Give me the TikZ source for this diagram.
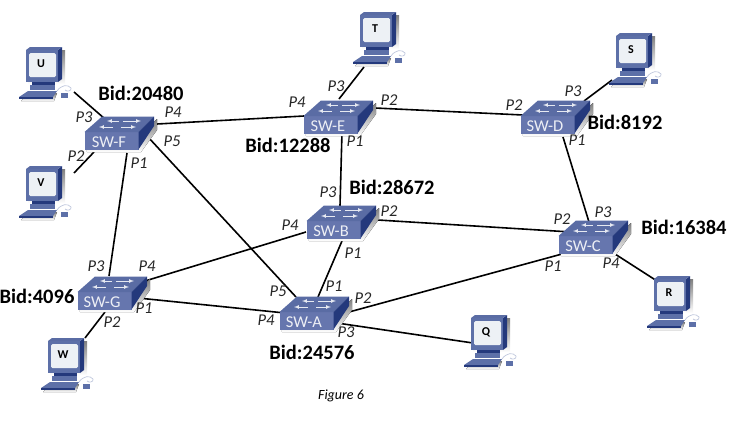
\documentclass[tikz,border=0pt]{standalone}
\usepackage{fontspec}
\setmainfont{Carlito}
\usetikzlibrary{backgrounds}
\definecolor{swfront}{HTML}{6676AE}
\definecolor{swtop}{HTML}{5A6CA4}
\definecolor{swside}{HTML}{24397C}
\definecolor{pcbody}{HTML}{5D70A8}
\definecolor{pcscreen}{HTML}{EDF1F5}
\definecolor{shade}{HTML}{D8D0BC}
\tikzset{
  link/.style={black,line width=1.6pt},
  swname/.style={text=white!88!swfront,font=\fontsize{16.5}{16}\selectfont,inner sep=0pt,yshift=1pt},
  pcname/.style={font=\bfseries\fontsize{12}{12}\selectfont,inner sep=0pt},
  bid/.style={font=\bfseries\fontsize{20.5}{20}\selectfont,inner sep=0pt},
  port/.style={font=\itshape\fontsize{16.5}{16}\selectfont,text=black!85,inner sep=0pt},
  swicon/.pic={
    \fill[shade] (-24,-9) -- (32,-9) -- (48,-24) -- (48,-13) -- (32,9) -- (-22,9) -- cycle;
    \fill[swfront] (-24.5,-11) rectangle (29.5,6.5);
    \fill[swtop] (-24.5,-11) -- (-7,-26.5) -- (45,-26.5) -- (29.5,-11) -- cycle;
    \fill[swside] (29.5,-11) -- (45,-26.5) -- (45,-17) -- (29.5,6.5) -- cycle;
    \draw[white!85!swtop,line width=.7pt,-latex] (10,-22) -- (-2,-22);
    \draw[white!85!swtop,line width=.7pt,-latex] (14,-22) -- (32,-22);
    \draw[white!85!swtop,line width=.7pt,-latex] (4,-16) -- (-10,-16);
    \draw[white!85!swtop,line width=.7pt,-latex] (12,-16) -- (27,-16);
  },
  pcicon/.pic={
    \fill[shade] (-13,-14) rectangle (24,20);
    \fill[shade] (-20,37) -- (-12,29) -- (16,29) -- (13,37) -- cycle;
    \fill[swside] (17,-14) -- (21,-17) -- (21,15) -- (17,18) -- cycle;
    \fill[swtop] (-15,-14) -- (-11,-17) -- (21,-17) -- (17,-14) -- cycle;
    \fill[pcbody] (-15,-14) rectangle (17,18);
    \fill[pcscreen,rounded corners=1.5pt] (-12,-11) rectangle (15,13);
    \fill[swside] (-9,18) rectangle (14,21);
    \fill[pcbody] (-11,21) rectangle (14,26);
    \fill[pcbody] (-22,33) -- (-13,27) -- (16,27) -- (12,33) -- cycle;
    \fill[swside] (-22,33) rectangle (12,34.5);
    \draw[white!60!pcbody,line width=.7pt] (16,27) .. controls (20,21) and (27,20) .. (30,24) .. controls (31,27) and (26,28) .. (24,26);
    \fill[pcbody] (20,29) rectangle (27,34);
  }
}
\begin{document}
\begin{tikzpicture}[x=1pt,y=-1pt]
  \useasboundingbox (0,0) rectangle (737,426);

  % switches
  \foreach \s/\x/\y in {F/109/143,E/328/127,B/331/232,D/545/127,C/583/247,A/304/323,G/102/303} {
    \pic at (\x,\y) {swicon};
    \node[swname] (sw\s) at (\x,\y) {SW-\s};
  }

  % hosts
  \foreach \s/\x/\y in {U/41/64,V/41/183,W/63/355,T/375/29,S/631/50,R/669/293,Q/486/332} {
    \pic at (\x,\y) {pcicon};
    \node[pcname] (pc\s) at (\x,\y) {\s};
  }

  \begin{scope}[on background layer]
    \draw[link] ([shift={(33,28)}]pcU.center) -- ([shift={(-4,-23)}]swF.center);
    \draw[link] ([shift={(33,-10)}]pcV.center) -- ([shift={(-15,10)}]swF.center);
    \draw[link] ([shift={(18,11)}]swF.center) -- ([shift={(7,-26)}]swG.center);
    \draw[link] ([shift={(39,-5)}]swF.center) -- ([shift={(-8,-25)}]swA.center);
    \draw[link] ([shift={(48,-18)}]swF.center) -- ([shift={(-24,-10)}]swE.center);
    \draw[link] ([shift={(-11,38)}]pcT.center) -- ([shift={(11,-27)}]swE.center);
    \draw[link] ([shift={(47,-18)}]swE.center) -- ([shift={(-22,-11)}]swD.center);
    \draw[link] ([shift={(14,6)}]swE.center) -- ([shift={(9,-25)}]swB.center);
    \draw[link] ([shift={(-19,30)}]pcS.center) -- ([shift={(39,-25)}]swD.center);
    \draw[link] ([shift={(18,11)}]swD.center) -- ([shift={(6,-24)}]swC.center);
    \draw[link] ([shift={(47,-11)}]swB.center) -- ([shift={(-12,-14)}]swC.center);
    \draw[link] ([shift={(-25,1)}]swB.center) -- ([shift={(43,-21)}]swG.center);
    \draw[link] ([shift={(11,10)}]swB.center) -- ([shift={(14,-25)}]swA.center);
    \draw[link] ([shift={(36,-4)}]swG.center) -- ([shift={(-19,-9)}]swA.center);
    \draw[link] ([shift={(34,-7)}]swA.center) -- ([shift={(-21,8)}]swC.center);
    \draw[link] ([shift={(33,1)}]swA.center) -- ([shift={(-13,11)}]pcQ.center);
    \draw[link] ([shift={(32,8)}]swC.center) -- ([shift={(-12,-12)}]pcR.center);
    \draw[link] ([shift={(3,10)}]swG.center) -- ([shift={(22,-17)}]pcW.center);
  \end{scope}

  % bridge ids
  \foreach \s/\x/\y/\b in {F/141/93/20480,E/288/145/12288,B/392/187/28672,D/625/122/8192,
    C/684/227/16384,G/37/296/4096,A/312/352/24576}
    \node[bid] (bid\s) at (\x,\y) {Bid:\b};

  % ports
  \foreach \s/\x/\y/\p in {F/84/117/P3,F/173/112/P4,F/76/156/P2,F/172/141/P5,F/139/163/P1,
    E/336/86/P3,E/297/102/P4,E/389/100/P2,E/355/141/P1,
    B/328/192/P3,B/290/225/P4,B/389/211/P2,B/353/253/P1,
    D/514/105/P2,D/573/91/P3,D/577/140/P1,
    C/562/219/P2,C/603/212/P3,C/553/266/P1,C/611/263/P4,
    G/96/266/P3,G/147/266/P4,G/144/308/P1,G/112/322/P2,
    A/278/291/P5,A/334/286/P1,A/363/298/P2,A/266/320/P4,A/346/332/P3}
    \node[port] (\s\p) at (\x,\y) {\p};

  \node[font=\itshape\fontsize{14}{14}\selectfont] (caption) at (341,396) {Figure 6};
\end{tikzpicture}
\end{document}
